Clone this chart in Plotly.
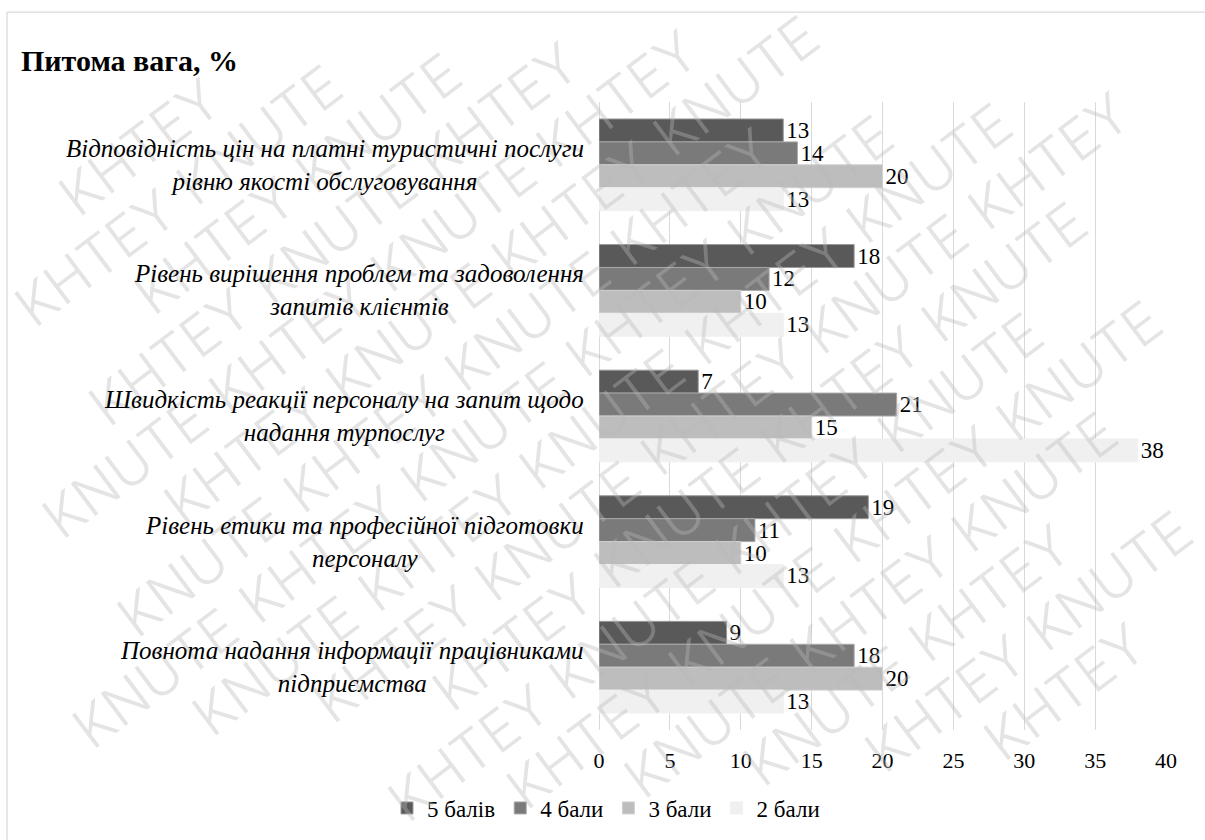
import math
import plotly.graph_objects as go

# Survey categories (top to bottom) and score shares, %
categories = [
    "Відповідність цін на платні туристичні послуги<br>рівню якості обслуговування",
    "Рівень вирішення проблем та задоволення<br>запитів клієнтів",
    "Швидкість реакції персоналу на запит щодо<br>надання турпослуг",
    "Рівень етики та професійної підготовки<br>персоналу",
    "Повнота надання інформації працівниками<br>підприємства",
]
series_names = ["5 балів", "4 бали", "3 бали", "2 бали"]
score_5 = [13, 18, 7, 19, 9]
score_4 = [14, 12, 21, 11, 18]
score_3 = [20, 10, 15, 10, 20]
score_2 = [13, 13, 38, 13, 13]
x_ticks = [0, 5, 10, 15, 20, 25, 30, 35, 40]

series_values = [score_5, score_4, score_3, score_2]
colors = ["#595959", "#7a7a7a", "#bdbdbd", "#f0f0f0"]
edge_colors = ["#9a9a9a", "#a8a8a8", "#d0d0d0", "#f0f0f0"]

W, H = 1205, 840
L, R, T, B = 599, 39, 102, 109
PW, PH = W - L - R, H - T - B

SERIF = "Liberation Serif"


def px_x(x):
    return (x - L) / PW


def px_y(y):
    return (H - B - y) / PH


fig = go.Figure()
for name, vals, col, edge in zip(series_names, series_values, colors, edge_colors):
    fig.add_trace(go.Bar(
        name=name,
        y=categories,
        x=vals,
        orientation="h",
        marker=dict(color=col, line=dict(color=edge, width=1)),
        text=[str(v) for v in vals],
        textposition="outside",
        textfont=dict(family=SERIF, size=23, color="#000000"),
        constraintext="none",
        cliponaxis=False,
    ))

annotations = []

# diagonal watermark words tiled over the canvas (whole words only)
theta = math.radians(37)
n = (math.sin(theta), math.cos(theta))
d = (math.cos(theta), -math.sin(theta))
row_gap = 62
period = 205
half_w, half_h = 88, 30
ext_x = half_w * math.cos(theta) + half_h * math.sin(theta)
ext_y = half_w * math.sin(theta) + half_h * math.cos(theta)
cx, cy = W / 2, H / 2
for k in range(-15, 16):
    ox = cx + k * row_gap * n[0]
    oy = cy + k * row_gap * n[1]
    shift = (k % 2) * period / 2
    for j in range(-9, 10):
        t = j * period + shift
        px = ox + t * d[0]
        py = oy + t * d[1]
        if not (ext_x <= px <= W - ext_x and ext_y <= py <= H - ext_y):
            continue
        word = "KNUTE" if (j + k) % 2 == 0 else "KHTEY"
        annotations.append(dict(
            text=word, x=px_x(px), y=px_y(py), xref="paper", yref="paper",
            xanchor="center", yanchor="middle", showarrow=False, textangle=-37,
            font=dict(family="Inter", size=56, weight=300,
                      color="rgba(185,185,185,0.38)"),
        ))

# category labels, centred lines, right edge next to the axis
for cat in categories:
    annotations.append(dict(
        text=cat, x=px_x(586), y=cat, xref="paper", yref="y",
        xanchor="right", yanchor="middle", align="center", showarrow=False,
        font=dict(family=SERIF, size=25, color="#000000", style="italic"),
    ))

# chart title
annotations.append(dict(
    text="<b>Питома вага, %</b>", x=px_x(19), y=px_y(60), xref="paper", yref="paper",
    xanchor="left", yanchor="middle", showarrow=False,
    font=dict(family=SERIF, size=30, color="#000000"),
))

fig.update_layout(
    width=W, height=H,
    margin=dict(l=L, r=R, t=T, b=B),
    paper_bgcolor="white", plot_bgcolor="white",
    barmode="group", bargap=0.27, bargroupgap=0,
    showlegend=True,
    legend=dict(
        orientation="h", x=px_x(606), y=px_y(808), xanchor="center", yanchor="middle",
        font=dict(family=SERIF, size=23, color="#000000"),
        itemwidth=30, tracegroupgap=0, bgcolor="rgba(0,0,0,0)",
    ),
    xaxis=dict(
        range=[0, 40], tickvals=x_ticks, ticktext=[str(t) for t in x_ticks],
        showgrid=True, gridcolor="#d9d9d9", gridwidth=1,
        zeroline=True, zerolinecolor="#d9d9d9", zerolinewidth=1,
        showline=False, ticks="", ticklabelstandoff=15,
        tickfont=dict(family=SERIF, size=22, color="#000000"),
    ),
    yaxis=dict(
        autorange="reversed", showticklabels=False, showgrid=False,
        zeroline=False, showline=False, ticks="",
    ),
    annotations=annotations,
    shapes=[dict(
        type="rect", xref="paper", yref="paper",
        x0=px_x(7), x1=px_x(1215), y0=px_y(850), y1=px_y(12),
        line=dict(color="#d0d0d0", width=1), fillcolor="rgba(0,0,0,0)", layer="below",
    )],
)

fig.write_html("out.html")
